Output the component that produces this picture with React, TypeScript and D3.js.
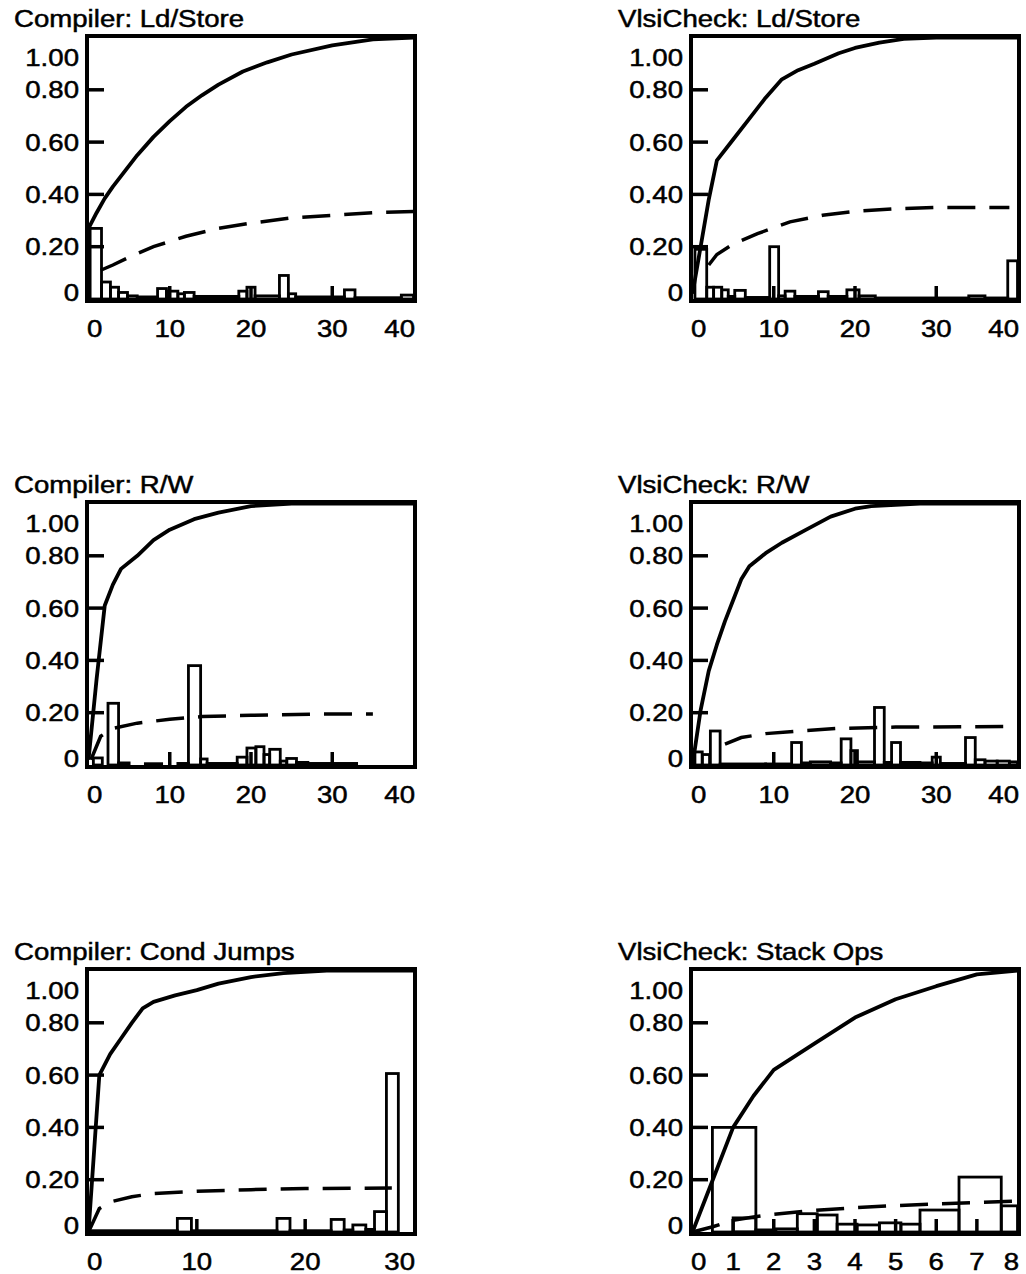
import React from 'react';
import * as d3 from 'd3';

type Pt = [number, number];
type Bin = [number, number, number]; // [from, to, share]

const FONT = '"Liberation Sans", Arial, Helvetica, sans-serif';
const SX = 1.15; // the scan's type is a bit wider than Arial

const titles = [
  'Compiler: Ld/Store',
  'VlsiCheck: Ld/Store',
  'Compiler: R/W',
  'VlsiCheck: R/W',
  'Compiler: Cond Jumps',
  'VlsiCheck: Stack Ops',
];

const xTicks40 = [0, 10, 20, 30, 40];
const xTicks30 = [0, 10, 20, 30];
const xTicks8 = [0, 1, 2, 3, 4, 5, 6, 7, 8];
const yTicks = [0, 0.2, 0.4, 0.6, 0.8, 1.0];

// Compiler: Ld/Store
const compLdSolid: Pt[] = [[0, 0.27], [1, 0.33], [2, 0.385], [3, 0.43], [4, 0.47], [6, 0.55], [8, 0.62], [10, 0.68], [12, 0.735], [14, 0.78], [16, 0.82], [19, 0.87], [22, 0.905], [25, 0.935], [30, 0.97], [35, 0.993], [40, 1.0]];
const compLdDashed: Pt[] = [[1.5, 0.11], [3, 0.13], [5, 0.16], [8, 0.2], [12, 0.24], [16, 0.27], [20, 0.29], [25, 0.31], [30, 0.32], [35, 0.33], [40, 0.335]];
const compLdBars: Bin[] = [[0.2, 1.6, 0.27], [1.6, 2.7, 0.065], [2.7, 3.7, 0.045], [3.7, 4.8, 0.025], [4.8, 6, 0.012], [6, 8.5, 0.008], [8.5, 9.6, 0.04], [9.6, 11, 0.03], [11, 11.8, 0.02], [11.8, 13, 0.025], [13, 18.5, 0.01], [18.5, 19.5, 0.03], [19.5, 20.5, 0.045], [20.5, 23.5, 0.012], [23.5, 24.6, 0.09], [24.6, 25.5, 0.02], [25.5, 31.5, 0.008], [31.5, 32.8, 0.035], [32.8, 38.5, 0.005], [38.5, 40, 0.015]];

// VlsiCheck: Ld/Store
const vlsiLdSolid: Pt[] = [[0, 0.02], [1, 0.2], [2, 0.38], [3, 0.53], [5, 0.61], [7, 0.69], [9, 0.77], [11, 0.84], [13, 0.875], [15, 0.9], [18, 0.94], [20, 0.96], [23, 0.98], [26, 0.995], [30, 1.0], [40, 1.0]];
const vlsiLdDashed: Pt[] = [[2, 0.13], [3, 0.17], [5, 0.21], [8, 0.25], [12, 0.295], [16, 0.32], [20, 0.335], [25, 0.345], [30, 0.35], [39, 0.35]];
const vlsiLdBars: Bin[] = [[0.3, 1.75, 0.19], [1.75, 2.6, 0.045], [2.6, 3.6, 0.045], [3.6, 4.4, 0.035], [4.4, 5.2, 0.01], [5.2, 6.5, 0.033], [6.5, 9.5, 0.006], [9.5, 10.6, 0.2], [10.6, 11.4, 0.012], [11.4, 12.6, 0.03], [12.6, 15.5, 0.01], [15.5, 16.7, 0.028], [16.7, 19, 0.01], [19, 20.5, 0.035], [20.5, 22.5, 0.012], [22.5, 34, 0.004], [34, 36, 0.012], [36, 38.8, 0.004], [38.8, 40, 0.146]];

// Compiler: R/W
const compRwSolid: Pt[] = [[0, 0.02], [1, 0.33], [2, 0.61], [3, 0.69], [4, 0.75], [6, 0.8], [8, 0.86], [10, 0.9], [13, 0.94], [16, 0.965], [20, 0.99], [25, 1.0], [40, 1.0]];
const compRwDashed: Pt[] = [[0.3, 0.02], [1.5, 0.11], [3, 0.14], [6, 0.16], [10, 0.175], [14, 0.185], [20, 0.19], [28, 0.195], [35, 0.195]];
const compRwBars: Bin[] = [[0.6, 1.7, 0.027], [2.4, 3.7, 0.236], [3.7, 5, 0.008], [7, 9, 0.005], [11, 12.3, 0.006], [12.3, 13.8, 0.38], [13.8, 14.6, 0.023], [14.6, 18.3, 0.006], [18.3, 19.5, 0.03], [19.5, 20.6, 0.065], [20.6, 21.6, 0.07], [21.6, 22.3, 0.04], [22.3, 23.6, 0.06], [23.6, 24.4, 0.015], [24.4, 25.6, 0.025], [25.6, 27, 0.01], [27, 33, 0.006]];

// VlsiCheck: R/W
const vlsiRwSolid: Pt[] = [[0, 0.0], [1, 0.21], [2, 0.36], [3, 0.46], [4, 0.55], [5, 0.63], [6, 0.71], [7, 0.76], [9, 0.81], [11, 0.85], [14, 0.9], [17, 0.95], [20, 0.98], [22, 0.99], [28, 1.0], [40, 1.0]];
const vlsiRwDashed: Pt[] = [[4, 0.08], [6, 0.105], [9, 0.12], [13, 0.13], [18, 0.14], [25, 0.145], [40, 0.147]];
const vlsiRwBars: Bin[] = [[0.3, 1.2, 0.05], [1.2, 2.1, 0.04], [2.2, 3.4, 0.13], [3.4, 9, 0.004], [9, 12.2, 0.004], [12.2, 13.4, 0.086], [13.4, 14.5, 0.008], [14.5, 17, 0.012], [17, 18.3, 0.008], [18.3, 19.5, 0.1], [19.5, 20.3, 0.055], [20.3, 22.4, 0.012], [22.4, 23.6, 0.22], [23.6, 24.5, 0.01], [24.5, 25.6, 0.086], [25.6, 28, 0.01], [28, 29.5, 0.008], [29.5, 30.5, 0.03], [30.5, 33.6, 0.006], [33.6, 34.8, 0.105], [34.8, 36, 0.02], [36, 37.5, 0.015], [37.5, 39, 0.015], [39, 40, 0.012]];

// Compiler: Cond Jumps
const compCjSolid: Pt[] = [[0, 0.0], [1, 0.6], [2, 0.68], [3, 0.74], [4, 0.8], [5, 0.855], [6, 0.88], [8, 0.905], [10, 0.925], [12, 0.95], [15, 0.975], [18, 0.99], [22, 1.0], [30, 1.0]];
const compCjDashed: Pt[] = [[0, 0.0], [1, 0.09], [2, 0.115], [4, 0.135], [6, 0.147], [10, 0.156], [15, 0.162], [20, 0.166], [28, 0.168]];
const compCjBars: Bin[] = [[0, 8.2, 0.005], [8.2, 9.5, 0.052], [9.5, 17.4, 0.005], [17.4, 18.6, 0.052], [18.6, 22.4, 0.005], [22.4, 23.6, 0.048], [23.6, 24.4, 0.008], [24.4, 25.6, 0.027], [25.6, 26.4, 0.01], [26.4, 27.5, 0.078], [27.5, 28.6, 0.606]];

// VlsiCheck: Stack Ops
const vlsiStSolid: Pt[] = [[0, 0], [0.5, 0.2], [1, 0.4], [1.5, 0.52], [2, 0.62], [3, 0.72], [4, 0.82], [5, 0.89], [6, 0.94], [7, 0.985], [8, 1.0]];
const vlsiStDashed: Pt[] = [[0, 0], [0.5, 0.02], [1, 0.045], [1.5, 0.057], [2, 0.068], [3, 0.083], [4, 0.093], [5, 0.101], [6, 0.107], [7, 0.113], [8, 0.118]];
const vlsiStBars: Bin[] = [[0.49, 1.56, 0.4], [1.0, 1.56, 0.054], [1.56, 2.05, 0.008], [2.05, 2.58, 0.012], [2.58, 3.07, 0.07], [3.07, 3.56, 0.065], [3.56, 4.05, 0.03], [4.05, 4.6, 0.027], [4.6, 5.13, 0.035], [5.13, 5.6, 0.03], [5.6, 6.56, 0.084], [6.56, 7.6, 0.21], [7.6, 8, 0.1]];

const panels = [
  { solid: compLdSolid, dashed: compLdDashed, bars: compLdBars, ticks: xTicks40 },
  { solid: vlsiLdSolid, dashed: vlsiLdDashed, bars: vlsiLdBars, ticks: xTicks40 },
  { solid: compRwSolid, dashed: compRwDashed, bars: compRwBars, ticks: xTicks40 },
  { solid: vlsiRwSolid, dashed: vlsiRwDashed, bars: vlsiRwBars, ticks: xTicks40 },
  { solid: compCjSolid, dashed: compCjDashed, bars: compCjBars, ticks: xTicks30 },
  { solid: vlsiStSolid, dashed: vlsiStDashed, bars: vlsiStBars, ticks: xTicks8 },
];

const W = 328;
const H = 265;
const colX = [87, 691];
const rowY = [36, 502, 969];

function Txt({ x, y, anchor, children }: { x: number; y: number; anchor: string; children: React.ReactNode }) {
  return (
    <text
      transform={`translate(${x},${y}) scale(${SX},1)`}
      textAnchor={anchor}
      fontFamily={FONT}
      fontSize={24}
      fill="#000"
      stroke="#000"
      strokeWidth={0.5}
    >
      {children}
    </text>
  );
}

function Panel({ idx }: { idx: number }) {
  const p = panels[idx];
  const left = colX[idx % 2];
  const top = rowY[Math.floor(idx / 2)];
  const xMax = p.ticks[p.ticks.length - 1];

  const x = d3.scaleLinear().domain([0, xMax]).range([1.5, W - 1.5]);
  const y = d3.scaleLinear().domain([0, 1]).range([H - 2, 1.5]);
  const line = d3.line<Pt>().x((d) => x(d[0])).y((d) => y(d[1]));

  const yFmt = (v: number) => (v === 0 ? '0' : d3.format('.2f')(v));

  return (
    <g transform={`translate(${left},${top})`}>
      <Txt x={-73} y={-9} anchor="start">{titles[idx]}</Txt>

      {p.bars.map((b, i) => (
        <rect
          key={i}
          x={x(b[0])}
          y={y(b[2])}
          width={x(b[1]) - x(b[0])}
          height={y(0) - y(b[2])}
          fill="none"
          stroke="#000"
          strokeWidth={2.8}
        />
      ))}

      <path d={line(p.dashed) || ''} fill="none" stroke="#000" strokeWidth={3.5} strokeDasharray="28,14" />
      <path d={line(p.solid) || ''} fill="none" stroke="#000" strokeWidth={3.8} strokeLinejoin="round" />

      {/* inward ticks */}
      {yTicks.slice(1, -1).map((t) => (
        <line key={'yt' + t} x1={0} x2={17} y1={y(t)} y2={y(t)} stroke="#000" strokeWidth={3.5} />
      ))}
      {p.ticks.slice(1, -1).map((t) => (
        <line key={'xt' + t} x1={x(t)} x2={x(t)} y1={H} y2={H - 15} stroke="#000" strokeWidth={3.5} />
      ))}

      <rect x={0} y={0} width={W} height={H} fill="none" stroke="#000" strokeWidth={4} />

      {yTicks.map((t, i) => {
        let ty = y(t) + 8.5;
        if (i === 0) ty = H - 9 + 8.5;
        if (i === yTicks.length - 1) ty = 21 + 8.5;
        return (
          <Txt key={'yl' + t} x={-8} y={ty} anchor="end">{yFmt(t)}</Txt>
        );
      })}

      {p.ticks.map((t, i) => {
        const last = p.ticks.length - 1;
        const anchor = i === 0 ? 'start' : i === last ? 'end' : 'middle';
        const tx = i === 0 ? 0 : i === last ? W : x(t);
        return (
          <Txt key={'xl' + t} x={tx} y={H + 36} anchor={anchor}>{String(t)}</Txt>
        );
      })}
    </g>
  );
}

export default function App() {
  return (
    <svg
      width={1026}
      height={1274}
      viewBox="0 0 1026 1274"
      style={{ position: 'absolute', left: 0, top: 0, background: '#fff', display: 'block' }}
    >
      <rect x={0} y={0} width={1026} height={1274} fill="#fff" />
      {panels.map((_, i) => (
        <Panel key={i} idx={i} />
      ))}
    </svg>
  );
}
